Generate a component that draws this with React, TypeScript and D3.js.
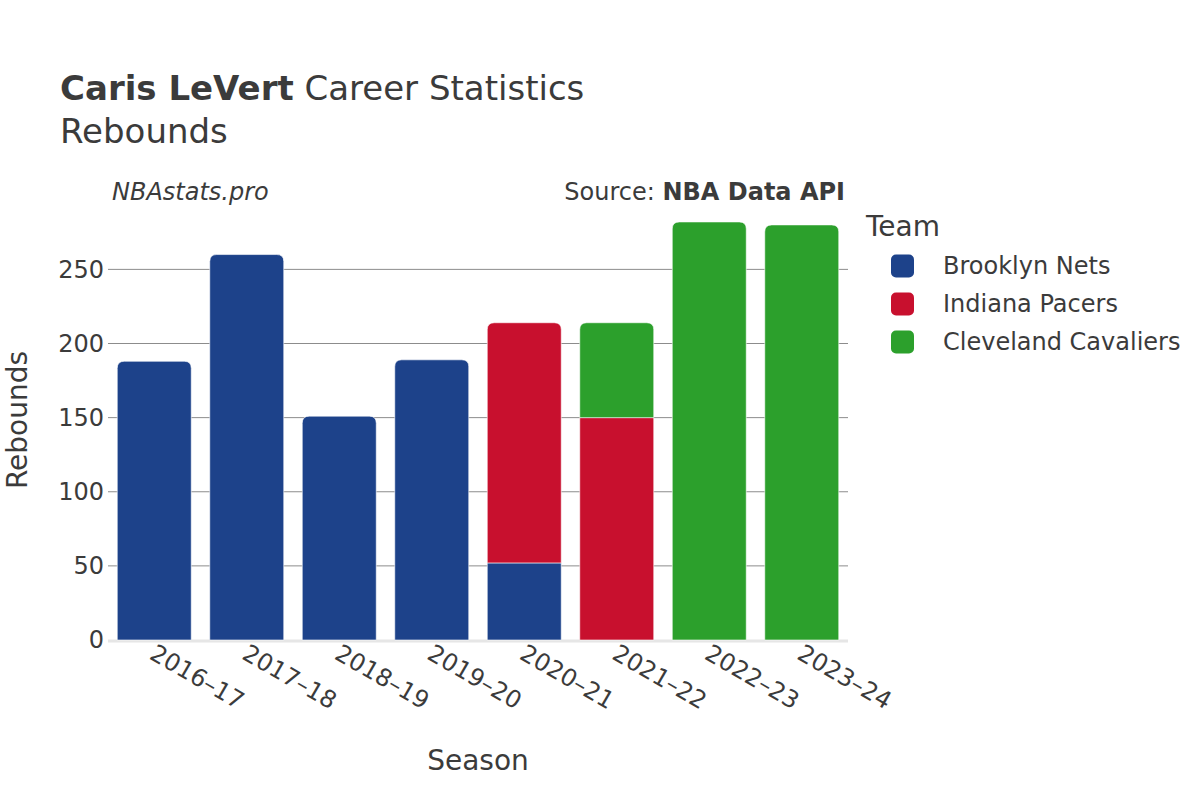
import React from "react";
import * as d3 from "d3";

const seasons = ["2016–17", "2017–18", "2018–19", "2019–20", "2020–21", "2021–22", "2022–23", "2023–24"];
const teams = ["Brooklyn Nets", "Indiana Pacers", "Cleveland Cavaliers"];
const teamColors = ["#1d428a", "#c8102e", "#2ca02c"];
const netsRebounds = [188, 260, 151, 189, 52, 0, 0, 0];
const pacersRebounds = [0, 0, 0, 0, 162, 150, 0, 0];
const cavsRebounds = [0, 0, 0, 0, 0, 64, 282, 280];
const yTicks = [0, 50, 100, 150, 200, 250];

const W = 1200;
const H = 800;
const M = { left: 108, right: 848, top: 200, bottom: 640 };
const FONT = "'DejaVu Sans', sans-serif";
const TEXT = "#3b3b3b";

function roundedTopPath(x: number, y: number, w: number, h: number, r: number) {
  const rr = Math.min(r, h, w / 2);
  return `M${x},${y + h}V${y + rr}Q${x},${y} ${x + rr},${y}H${x + w - rr}Q${x + w},${y} ${x + w},${y + rr}V${y + h}Z`;
}

export default function App() {
  const series = [netsRebounds, pacersRebounds, cavsRebounds];
  const x = d3.scaleBand<string>().domain(seasons).range([M.left, M.right]).paddingInner(0.2).paddingOuter(0.1);
  const y = d3.scaleLinear().domain([0, 296.8]).range([M.bottom, M.top]);

  const rows = seasons.map((s, i) => {
    const r: any = { season: s };
    teams.forEach((t, k) => (r[t] = series[k][i]));
    return r;
  });
  const stacked = d3.stack<any>().keys(teams)(rows);

  const topIdx = seasons.map((_, i) => {
    let top = -1;
    series.forEach((s, k) => { if (s[i] > 0) top = k; });
    return top;
  });

  const bw = x.bandwidth();

  return (
    <svg width={W} height={H} style={{ position: "absolute", left: 0, top: 0, background: "#fff" }} fontFamily={FONT}>
      <rect width={W} height={H} fill="#fff" />
      <text x={60} y={100} fontSize={34} fill={TEXT}>
        <tspan fontWeight="bold">Caris LeVert</tspan>
        <tspan> Career Statistics</tspan>
      </text>
      <text x={60} y={143} fontSize={34} fill={TEXT}>Rebounds</text>
      <text x={112} y={200} fontSize={24} fontStyle="italic" fill={TEXT}>NBAstats.pro</text>
      <text x={845} y={200} fontSize={24} textAnchor="end" fill={TEXT}>
        <tspan>Source: </tspan>
        <tspan fontWeight="bold">NBA Data API</tspan>
      </text>

      {yTicks.filter((t) => t > 0).map((t) => (
        <line key={t} x1={M.left} x2={M.right} y1={y(t)} y2={y(t)} stroke="#8c8c8c" strokeWidth={1} />
      ))}
      <line x1={M.left} x2={M.right} y1={y(0) + 1} y2={y(0) + 1} stroke="#e6e6e6" strokeWidth={3} />

      {yTicks.map((t) => (
        <text key={t} x={104} y={y(t)} dy="0.35em" fontSize={24} textAnchor="end" fill={TEXT}>{t}</text>
      ))}

      {stacked.map((layer, k) =>
        layer.map((d, i) => {
          const v = d[1] - d[0];
          if (v <= 0) return null;
          const xx = x(seasons[i])!;
          const y0 = y(d[1]);
          const h = y(d[0]) - y(d[1]);
          const isTop = topIdx[i] === k;
          const p = isTop ? roundedTopPath(xx, y0, bw, h, 7) : `M${xx},${y0}h${bw}v${h}h${-bw}Z`;
          return <path key={`${k}-${i}`} d={p} fill={teamColors[k]} stroke="#ffffff" strokeOpacity={0.6} strokeWidth={1} />;
        })
      )}

      {seasons.map((s) => {
        const cx = x(s)! + bw / 2;
        return (
          <text key={s} transform={`translate(${cx - 6},${658}) rotate(30)`} fontSize={24} fill={TEXT}>{s}</text>
        );
      })}

      <text x={(M.left + M.right) / 2} y={770} fontSize={28} textAnchor="middle" fill={TEXT}>Season</text>
      <text transform={`translate(${17},${(M.top + M.bottom) / 2}) rotate(-90)`} fontSize={28} textAnchor="middle" dy="0.35em" fill={TEXT}>Rebounds</text>

      <text x={866} y={236} fontSize={28} fill={TEXT}>Team</text>
      {teams.map((t, k) => (
        <g key={t} transform={`translate(0,${266 + k * 38})`}>
          <rect x={891} y={-11.5} width={23} height={23} rx={5} fill={teamColors[k]} />
          <text x={943} y={0} dy="0.35em" fontSize={24} fill={TEXT}>{t}</text>
        </g>
      ))}
    </svg>
  );
}
